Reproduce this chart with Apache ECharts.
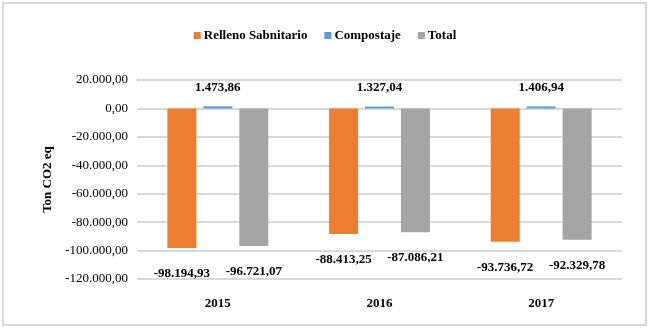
<!DOCTYPE html>
<html>
<head>
<meta charset="utf-8">
<script src="https://cdn.jsdelivr.net/npm/echarts@6/dist/echarts.min.js"></script>
<style>
  body { margin: 0; background: #fff; }
  #chart { width: 650px; height: 330px; }
</style>
</head>
<body>
<div id="chart"></div>
<script>
const years = ['2015', '2016', '2017']
const relleno = [-98194.93, -88413.25, -93736.72]
const compostaje = [1473.86, 1327.04, 1406.94]
const total = [-96721.07, -87086.21, -92329.78]

const FONT = '"Liberation Serif", "Times New Roman", serif'

// formato es: 1.473,86
function fmt(v) {
  const neg = v < 0
  const parts = Math.abs(v).toFixed(2).split('.')
  const int = parts[0].replace(/\B(?=(\d{3})+(?!\d))/g, '.')
  return (neg ? '-' : '') + int + ',' + parts[1]
}

const chart = echarts.init(document.getElementById('chart'))

const labelStyle = {
  show: true,
  fontFamily: FONT,
  fontSize: 13,
  fontWeight: 'bold',
  color: '#000',
  formatter: (p) => fmt(p.value)
}

chart.setOption({
  animation: false,
  textStyle: { fontFamily: FONT },
  graphic: [{
    type: 'rect',
    shape: { x: 3, y: 3, width: 643, height: 322 },
    style: { fill: 'none', stroke: '#d9d9d9', lineWidth: 2 }
  }],
  legend: {
    top: 24,
    left: 'center',
    itemWidth: 7,
    itemHeight: 7,
    itemGap: 17,
    icon: 'rect',
    textStyle: { fontFamily: FONT, fontSize: 13, fontWeight: 'bold', color: '#000', padding: [0, 0, 0, -2] }
  },
  grid: { left: 137, right: 28, top: 80, bottom: 51 },
  xAxis: {
    type: 'category',
    data: years,
    axisLine: { show: false, onZero: false },
    axisTick: { show: false },
    axisLabel: { fontFamily: FONT, fontSize: 13, fontWeight: 'bold', color: '#000', margin: 18 }
  },
  yAxis: {
    type: 'value',
    min: -120000,
    max: 20000,
    interval: 20000,
    name: 'Ton CO2 eq',
    nameLocation: 'middle',
    nameGap: 83,
    nameTextStyle: { fontFamily: FONT, fontSize: 13, fontWeight: 'bold', color: '#000' },
    axisLabel: { fontFamily: FONT, fontSize: 13, color: '#000', margin: 9, formatter: fmt },
    splitLine: { lineStyle: { color: '#d9d9d9', width: 2 } }
  },
  series: [
    {
      name: 'Relleno Sabnitario',
      type: 'bar',
      data: relleno,
      barWidth: 29,
      barGap: '24%',
      itemStyle: { color: '#ED7D31' },
      label: Object.assign({ position: 'bottom', distance: 19 }, labelStyle)
    },
    {
      name: 'Compostaje',
      type: 'bar',
      data: compostaje,
      barWidth: 29,
      itemStyle: { color: '#5B9BD5' },
      label: Object.assign({ position: 'top', distance: 12 }, labelStyle)
    },
    {
      name: 'Total',
      type: 'bar',
      data: total,
      barWidth: 29,
      itemStyle: { color: '#A5A5A5' },
      label: Object.assign({ position: 'bottom', distance: 19 }, labelStyle)
    }
  ]
})
</script>
</body>
</html>
